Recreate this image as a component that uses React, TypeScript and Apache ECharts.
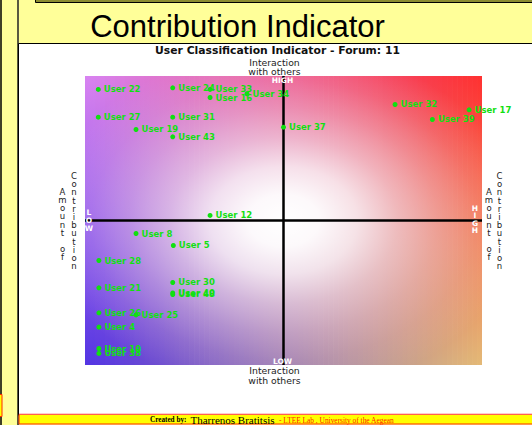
import React, { useEffect, useRef } from 'react';
import * as echarts from 'echarts';

// ---- Data ----
const users = ['User 22', 'User 24', 'User 33', 'User 16', 'User 34', 'User 27', 'User 31', 'User 19', 'User 43', 'User 37', 'User 32', 'User 17', 'User 39', 'User 12', 'User 8', 'User 5', 'User 28', 'User 30', 'User 21', 'User 40', 'User 48', 'User 26', 'User 25', 'User 4', 'User 10', 'User 38'];
const interaction = [-93.3, -55.8, -37, -37, -18.4, -93.3, -55.8, -74.3, -55.8, 0, 56.2, 93.5, 75, -37, -74.3, -55.5, -93, -55.8, -93, -55.8, -55.8, -93, -74.3, -93, -93, -93];
const contribution = [90.7, 91.8, 90.7, 85.1, 87.7, 71.5, 71.5, 63, 57.9, 64.6, 80.3, 76.6, 69.9, 3.5, -9, -17.3, -27.7, -42.9, -46.6, -50.2, -51.2, -63.9, -65.3, -73.8, -88.6, -92];
const axisMin = -100;
const axisMax = 100;

const pageTitle = 'Contribution Indicator';
const chartTitle = 'User Classification Indicator - Forum: 11';
const xAxisName = 'Interaction\nwith others';
const yAxisWords = ['Amount of', 'Contribution'];

// ---- Layout ----
const W = 532, H = 425;
const GL = 85, GT = 76, GW = 397, GH = 289;

const TL = [216, 132, 242];
const TR = [255, 48, 48];
const BL = [82, 52, 228];
const BR = [228, 186, 118];

function lerp(a: number[], b: number[], t: number) {
  return a.map((v, i) => Math.round(v + (b[i] - v) * t));
}
function rgb(c: number[]) {
  return `rgb(${c[0]},${c[1]},${c[2]})`;
}
function stack(s: string) {
  return s.split('').join('\n');
}

export default function App() {
  const ref = useRef<HTMLDivElement>(null);
  useEffect(() => {
    if (!ref.current) return;
    const chart = echarts.init(ref.current, undefined, { renderer: 'svg' });

    const strips: any[] = [];
    const N = 80;
    const sw = GW / N;
    for (let i = 0; i < N; i++) {
      const t = (i + 0.5) / N;
      const top = lerp(TL, TR, t);
      const bot = lerp(BL, BR, t);
      strips.push({
        type: 'rect',
        silent: true,
        z: 1,
        shape: { x: GL + i * sw, y: GT, width: i === N - 1 ? sw : sw + 0.7, height: GH },
        style: {
          fill: {
            type: 'linear', x: 0, y: 0, x2: 0, y2: 1,
            colorStops: [{ offset: 0, color: rgb(top) }, { offset: 1, color: rgb(bot) }],
          },
        },
      });
    }
    strips.push({
      type: 'rect',
      silent: true,
      z: 2,
      shape: { x: GL, y: GT, width: GW, height: GH },
      style: {
        fill: {
          type: 'radial', x: 0.5, y: 0.5, r: 0.6,
          colorStops: [
            { offset: 0, color: 'rgba(255,255,255,1)' },
            { offset: 0.15, color: 'rgba(255,255,255,0.96)' },
            { offset: 0.31, color: 'rgba(255,255,255,0.8)' },
            { offset: 0.48, color: 'rgba(255,255,255,0.52)' },
            { offset: 0.65, color: 'rgba(255,255,255,0.3)' },
            { offset: 0.81, color: 'rgba(255,255,255,0.13)' },
            { offset: 1, color: 'rgba(255,255,255,0)' },
          ],
        },
      },
    });

    const cx = GL + GW / 2;
    const whiteBold = (text: string, x: number, y: number, lh = 7.6) => ({
      type: 'text', x, y, z: 50, silent: true,
      style: {
        text, fill: '#ffffff', fontFamily: 'DejaVu Sans', fontWeight: 'bold', fontSize: 7.5,
        align: 'center', verticalAlign: 'middle', lineHeight: lh,
      },
    });
    const vText = (text: string, x: number, y: number) => ({
      type: 'text', x, y, z: 50, silent: true,
      style: {
        text: stack(text), fill: '#222', fontFamily: 'DejaVu Sans', fontSize: 8.5,
        align: 'center', verticalAlign: 'middle', lineHeight: 8.2,
      },
    });

    const frame: any[] = [
      { type: 'line', z: 0, silent: true, shape: { x1: 1, y1: 0, x2: 1, y2: H }, style: { stroke: '#000', lineWidth: 1.5 } },
      { type: 'line', z: 0, silent: true, shape: { x1: 18, y1: 0, x2: 18, y2: H }, style: { stroke: '#222', lineWidth: 1.5 } },
      { type: 'rect', z: 0, silent: true, shape: { x: 35.5, y: -5, width: 520, height: 7.5 }, style: { fill: '#8c8c30', stroke: '#000', lineWidth: 1 } },
      { type: 'rect', z: 0, silent: true, shape: { x: 18.5, y: 43.5, width: 520, height: 372 }, style: { fill: '#ffffff', stroke: '#000', lineWidth: 1 } },
      { type: 'rect', z: 0, silent: true, shape: { x: 19, y: 414.5, width: 520, height: 9.5 }, style: { fill: '#ffff00', stroke: '#ff2a00', lineWidth: 1 } },
      { type: 'line', z: 0, silent: true, shape: { x1: 19, y1: 414, x2: W, y2: 414 }, style: { stroke: '#ff9a9a', lineWidth: 1.2 } },
      { type: 'rect', z: 0, silent: true, shape: { x: -4, y: 394.5, width: 6, height: 22 }, style: { fill: '#ffff00', stroke: '#ff2a00', lineWidth: 1 } },
      { type: 'text', x: 237.5, y: 26, z: 50, silent: true, style: { text: pageTitle, fill: '#000', fontFamily: 'Liberation Sans', fontSize: 31, align: 'center', verticalAlign: 'middle' } },
      { type: 'text', x: 277.5, y: 50.5, z: 50, silent: true, style: { text: chartTitle, fill: '#111', fontFamily: 'DejaVu Sans', fontWeight: 'bold', fontSize: 10.8, align: 'center', verticalAlign: 'middle' } },
      { type: 'text', x: 274.5, y: 67, z: 50, silent: true, style: { text: xAxisName, fill: '#222', fontFamily: 'DejaVu Sans', fontSize: 9.3, align: 'center', verticalAlign: 'middle', lineHeight: 9.5 } },
      { type: 'text', x: 274.5, y: 375.5, z: 50, silent: true, style: { text: xAxisName, fill: '#222', fontFamily: 'DejaVu Sans', fontSize: 9.3, align: 'center', verticalAlign: 'middle', lineHeight: 9.5 } },
      vText(yAxisWords[0], 62.5, 224.5),
      vText(yAxisWords[1], 74, 221),
      vText(yAxisWords[0], 489, 224.5),
      vText(yAxisWords[1], 499.5, 221),
      whiteBold('HIGH', cx - 1, 80.5),
      whiteBold('LOW', cx - 1, 361.5),
      whiteBold('L\nO\nW', 89, 220.5),
      whiteBold('H\nI\nG\nH', 475, 219.5),
      { type: 'text', x: 150, y: 420, z: 50, silent: true, style: { text: 'Created by:', fill: '#000', fontFamily: 'Liberation Serif', fontWeight: 'bold', fontSize: 7.2, align: 'left', verticalAlign: 'middle' } },
      { type: 'text', x: 190.5, y: 419.5, z: 50, silent: true, style: { text: 'Tharrenos Bratitsis', fill: '#000', fontFamily: 'Liberation Serif', fontSize: 11, align: 'left', verticalAlign: 'middle' } },
      { type: 'text', x: 279, y: 420, z: 50, silent: true, style: { text: '- LTEE Lab , University of the Aegean', fill: '#ff2200', fontFamily: 'Liberation Serif', fontSize: 7.4, align: 'left', verticalAlign: 'middle' } },
    ];

    chart.setOption({
      animation: false,
      backgroundColor: '#ffff99',
      grid: { left: GL, top: GT, width: GW, height: GH, show: false },
      xAxis: { type: 'value', min: axisMin, max: axisMax, show: false },
      yAxis: { type: 'value', min: axisMin, max: axisMax, show: false },
      graphic: { elements: [...frame, ...strips] },
      series: [
        {
          type: 'scatter',
          z: 10,
          symbol: 'circle',
          symbolSize: 5,
          itemStyle: { color: '#10e010', opacity: 1 },
          label: {
            show: true,
            position: 'right',
            distance: 3,
            formatter: '{b}',
            color: '#12e012',
            fontFamily: 'DejaVu Sans',
            fontWeight: 'bold',
            fontSize: 8.5,
          },
          labelLayout: { hideOverlap: false },
          data: users.map((u, i) => ({ name: u, value: [interaction[i], contribution[i]] })),
          markLine: {
            silent: true,
            symbol: ['none', 'none'],
            label: { show: false },
            lineStyle: { color: '#000', width: 2.5, type: 'solid' },
            data: [{ xAxis: 0 }, { yAxis: 0 }],
          },
        },
      ],
    });
    return () => chart.dispose();
  }, []);
  return <div ref={ref} style={{ position: 'absolute', left: 0, top: 0, width: W, height: H }} />;
}
